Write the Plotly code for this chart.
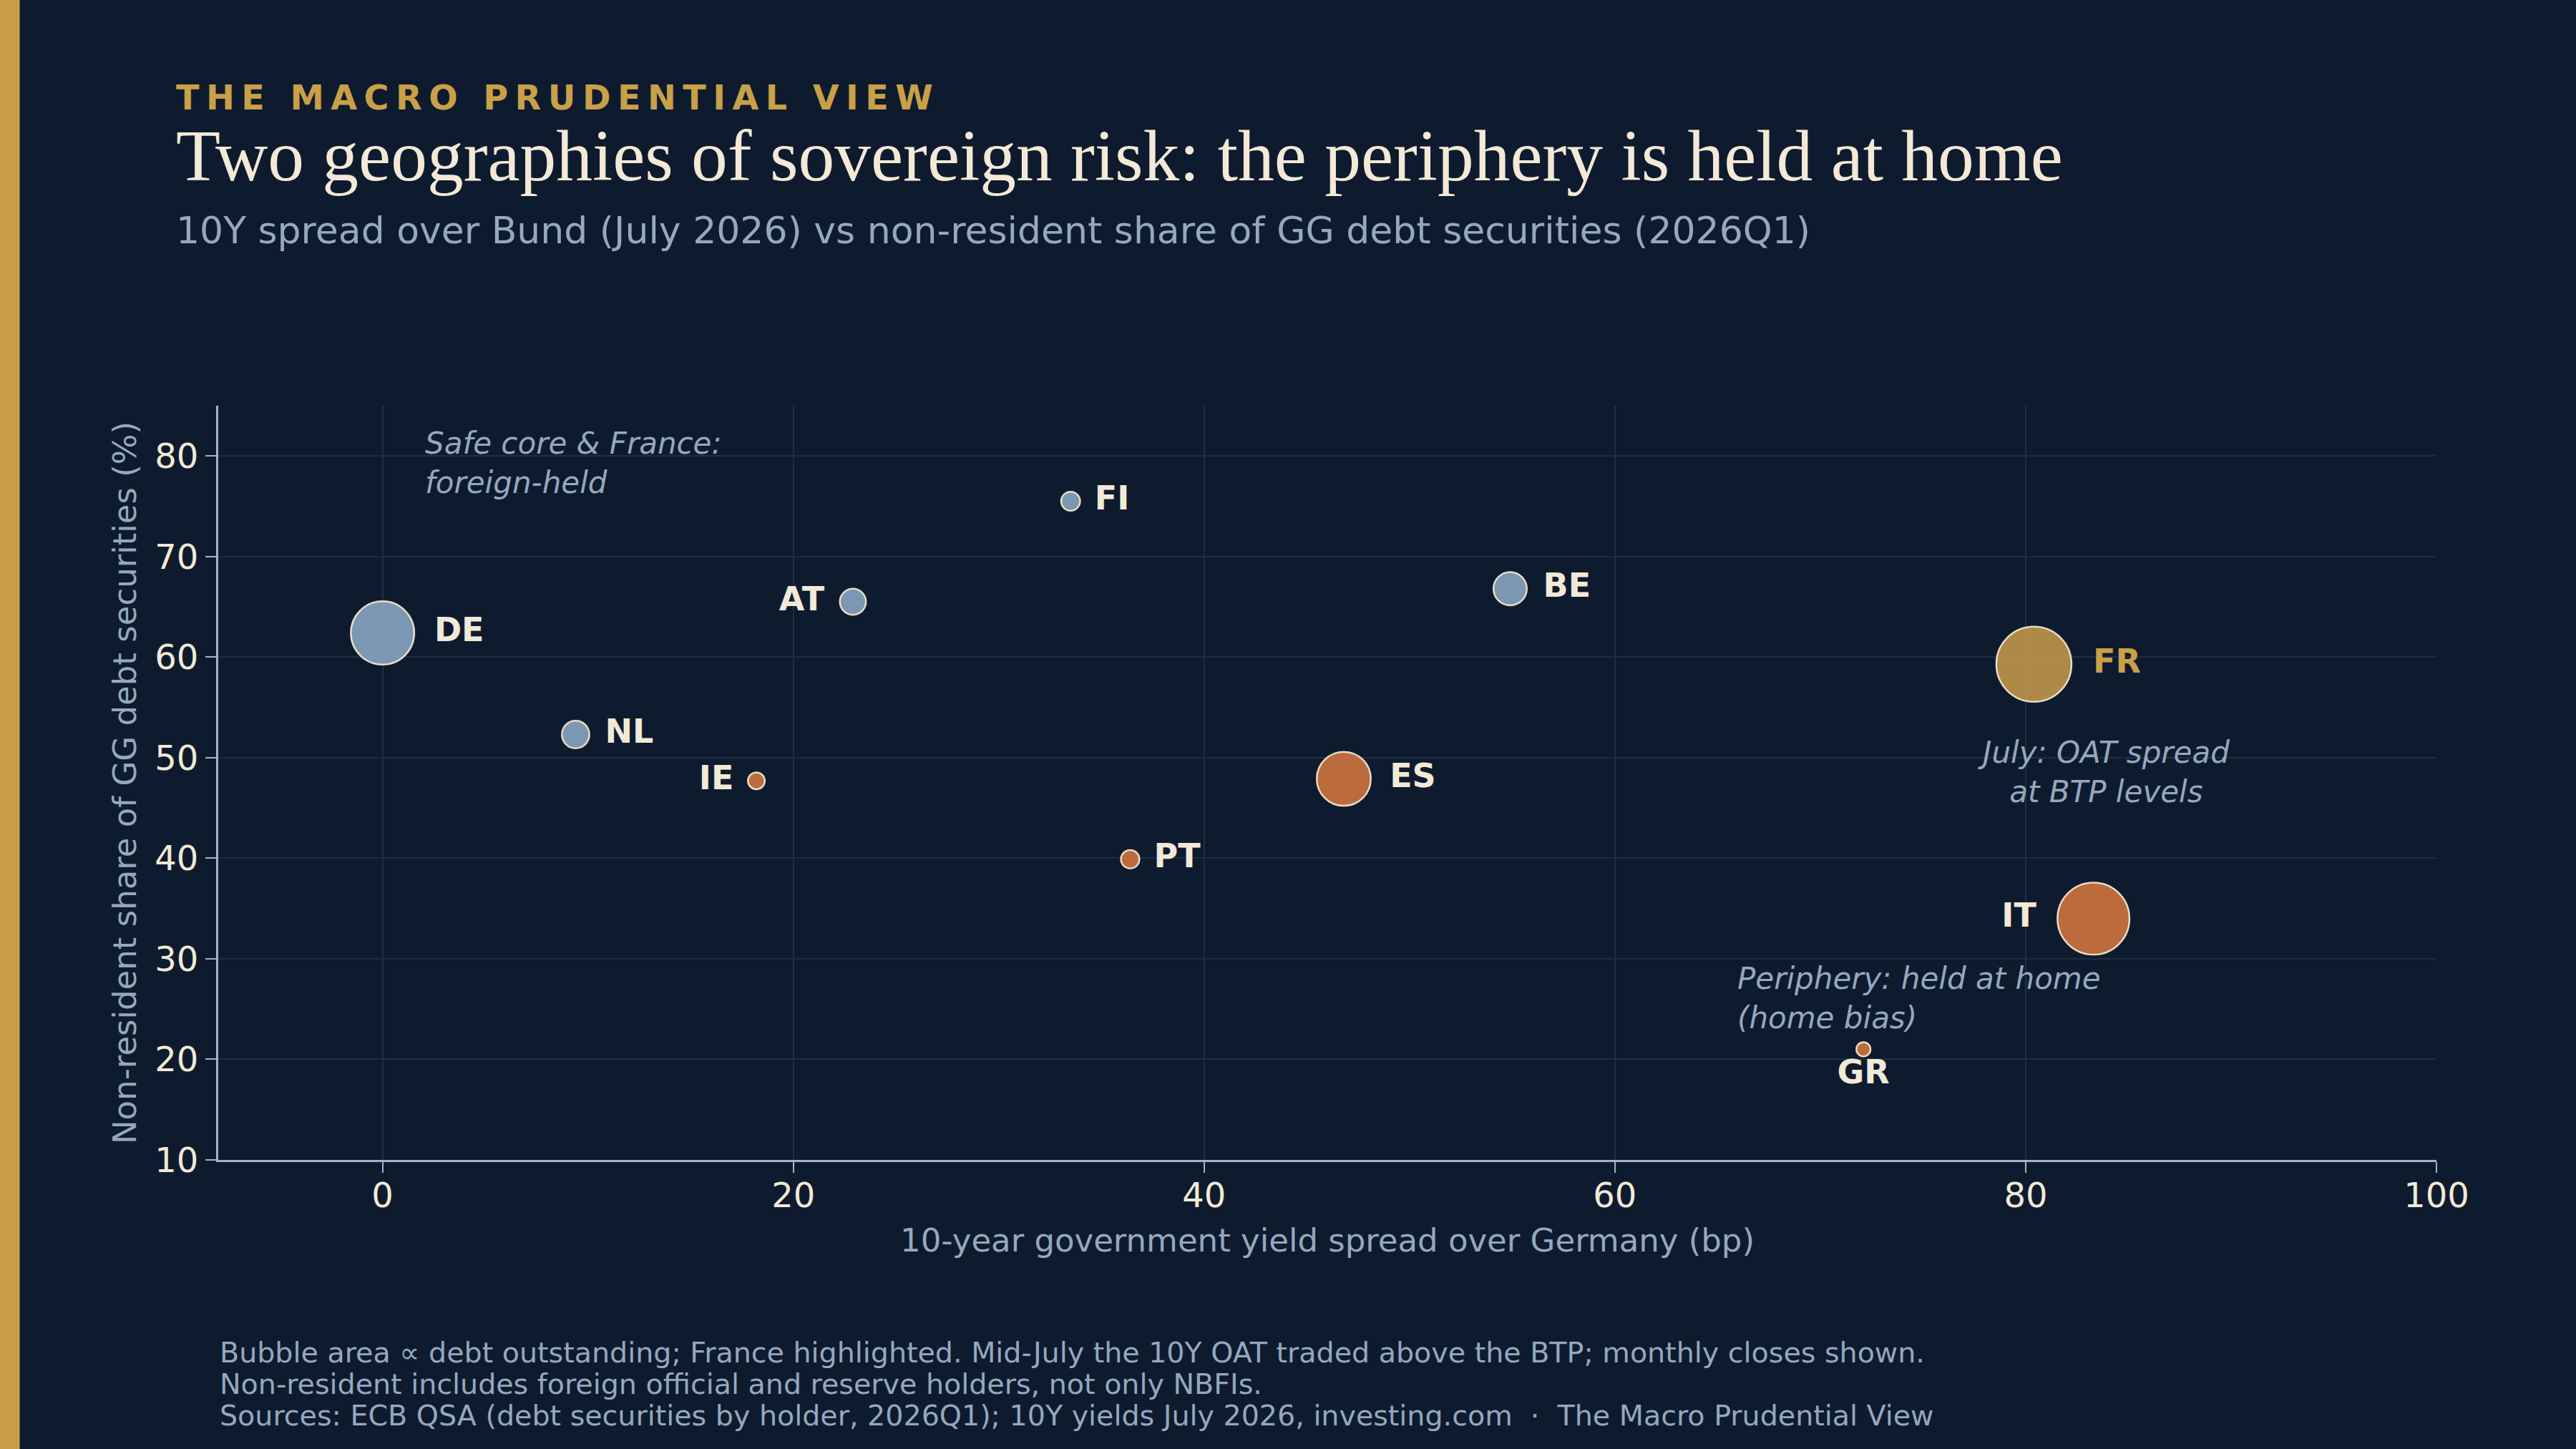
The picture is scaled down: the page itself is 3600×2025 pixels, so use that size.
import plotly.graph_objects as go

# Country data: 10Y spread over Bund (bp), non-resident share (%), debt outstanding (EUR bn)
core = ["DE", "NL", "AT", "FI", "BE"]
core_spread = [0, 9.4, 22.9, 33.5, 54.9]
core_nonres = [62.4, 52.3, 65.5, 75.5, 66.8]
core_debt = [2130, 400, 360, 190, 590]
core_pos = ["middle right", "middle right", "middle left", "middle right", "middle right"]

periphery = ["IE", "PT", "ES", "GR", "IT"]
periphery_spread = [18.2, 36.4, 46.8, 72.1, 83.3]
periphery_nonres = [47.7, 39.9, 47.9, 21.0, 34.0]
periphery_debt = [150, 180, 1550, 105, 2750]
periphery_pos = ["middle left", "middle right", "middle right", "bottom center", "middle left"]

france = ["FR"]
france_spread = [80.4]
france_nonres = [59.3]
france_debt = [3000]
france_pos = ["middle right"]

BG = "#0e1b2f"
CREAM = "#f3e9d6"
GOLD = "#c9a047"
MUTED = "#95a8be"
GRID = "#1f2e45"

max_debt = max(core_debt + periphery_debt + france_debt)
sizeref = 2.0 * max_debt / (105 ** 2)


def pad(labels, positions):
    # keep a little air between bubble and label
    out = []
    for lab, pos in zip(labels, positions):
        if pos.endswith("right"):
            out.append("\u00a0" + lab)
        elif pos.endswith("left"):
            out.append(lab + "\u00a0")
        else:
            out.append(lab)
    return out


def bubbles(names, xs, ys, debt, pos, fill, label_color):
    return go.Scatter(
        x=xs, y=ys, mode="markers+text",
        text=pad(names, pos), textposition=pos,
        textfont=dict(family="DejaVu Sans", size=46, color=label_color, weight="bold"),
        marker=dict(size=debt, sizemode="area", sizeref=sizeref, color=fill, opacity=1,
                    line=dict(color="#e8dcc4", width=2.5)),
        showlegend=False, hoverinfo="text",
    )


fig = go.Figure()
fig.add_trace(bubbles(core, core_spread, core_nonres, core_debt, core_pos,
                      "rgba(136,165,194,0.9)", CREAM))
fig.add_trace(bubbles(periphery, periphery_spread, periphery_nonres, periphery_debt,
                      periphery_pos, "rgba(203,114,63,0.92)", CREAM))
fig.add_trace(bubbles(france, france_spread, france_nonres, france_debt, france_pos,
                      "rgba(191,151,75,0.9)", GOLD))

axis_common = dict(
    showline=True, linecolor="#a3b4c8", linewidth=3,
    ticks="outside", ticklen=15, tickwidth=2, tickcolor="#a3b4c8",
    tickfont=dict(family="DejaVu Sans", size=48, color=CREAM),
    showgrid=True, gridcolor=GRID, gridwidth=2, zeroline=False,
)

fig.update_xaxes(range=[-8, 100], tickvals=[0, 20, 40, 60, 80, 100], ticklabelstandoff=-10,
                 title=dict(text="10-year government yield spread over Germany (bp)",
                            font=dict(family="DejaVu Sans", size=45, color=MUTED), standoff=21),
                 **axis_common)
fig.update_yaxes(range=[10, 85], tickvals=[10, 20, 30, 40, 50, 60, 70, 80],
                 title=dict(text="Non-resident share of GG debt securities (%)",
                            font=dict(family="DejaVu Sans", size=45, color=MUTED), standoff=12),
                 **axis_common)

kicker = "\u2009".join("THE MACRO PRUDENTIAL VIEW")

notes = [
    dict(x=2.0, y=79.3, xanchor="left", align="left",
         text="Safe core & France:<br>foreign-held"),
    dict(x=83.8, y=48.6, xanchor="center", align="center",
         text="July: OAT spread<br>at BTP levels"),
    dict(x=65.9, y=26.1, xanchor="left", align="left",
         text="Periphery: held at home<br>(home bias)"),
]
for n in notes:
    fig.add_annotation(xref="x", yref="y", yanchor="middle", showarrow=False,
                       font=dict(family="DejaVu Sans", size=42, color=MUTED, style="italic"), **n)

# header
fig.add_annotation(xref="paper", yref="paper", x=-0.0197, y=1.408, xanchor="left", yanchor="middle",
                   text=kicker, showarrow=False,
                   font=dict(family="DejaVu Sans", size=47.6, color=GOLD, weight="bold"))
fig.add_annotation(xref="paper", yref="paper", x=-0.0197, y=1.331, xanchor="left", yanchor="middle",
                   text="Two geographies of sovereign risk: the periphery is held at home",
                   showarrow=False,
                   font=dict(family="Liberation Serif", size=101.5, color=CREAM))
fig.add_annotation(xref="paper", yref="paper", x=-0.0197, y=1.232, xanchor="left", yanchor="middle",
                   text="10Y spread over Bund (July 2026) vs non-resident share of GG debt securities (2026Q1)",
                   showarrow=False,
                   font=dict(family="DejaVu Sans", size=52, color=MUTED))

# footnotes
foot = [
    "Bubble area \u221d debt outstanding; France highlighted. Mid-July the 10Y OAT traded above the BTP; monthly closes shown.",
    "Non-resident includes foreign official and reserve holders, not only NBFIs.",
    "Sources: ECB QSA (debt securities by holder, 2026Q1); 10Y yields July 2026, investing.com  \u00b7  The Macro Prudential View",
]
for i, line in enumerate(foot):
    fig.add_annotation(xref="paper", yref="paper", x=0, y=-0.255 - i * 0.0418,
                       xanchor="left", yanchor="middle", text=line, showarrow=False,
                       font=dict(family="DejaVu Sans", size=39.6, color=MUTED))

# gold accent bar on the left edge
fig.add_shape(type="rect", xref="paper", yref="paper",
              x0=-0.0985, x1=-0.0895, y0=-0.3833, y1=1.5380,
              fillcolor=GOLD, line=dict(width=0), layer="above")

fig.update_layout(
    width=3600, height=2025,
    paper_bgcolor=BG, plot_bgcolor=BG,
    margin=dict(l=305, r=195, t=567, b=404),
    showlegend=False,
)

fig.write_html("out.html", config={"displayModeBar": False},
               post_script="document.body.style.margin='0';"
                           "document.body.style.background='#0e1b2f';"
                           "document.body.style.overflow='hidden';")
